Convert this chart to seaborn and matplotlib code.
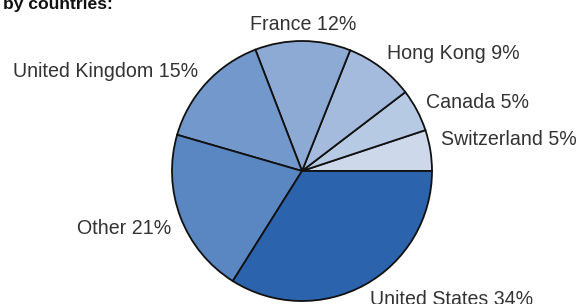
import numpy as np
import seaborn as sns
import matplotlib.pyplot as plt

# slice data, counter-clockwise from 3 o'clock
countries = ["Switzerland", "Canada", "Hong Kong", "France", "United Kingdom", "Other", "United States"]
shares = [5.1, 5.3, 8.6, 11.9, 14.7, 20.6, 34.0]
colors = ["#cdd9eb", "#b7cae4", "#a4bbdd", "#8daad4", "#7398cb", "#5a86c2", "#2b63ad"]
title = "by countries:"

sns.set_theme(style="white")
plt.rcParams['font.family'] = ['Liberation Sans', 'DejaVu Sans']

W, H = 578, 304
fig = plt.figure(figsize=(W / 100, H / 100), dpi=100)
ax = fig.add_axes([0, 0, 1, 1])

cx, cy, r = 302, H - 171, 130
wedges, _ = ax.pie(shares, colors=colors, startangle=0, counterclock=True,
                   center=(cx, cy), radius=r,
                   wedgeprops=dict(edgecolor="#111111", linewidth=1.3))

# vertical label nudges (px) to mimic the original layout
nudge = {"Switzerland": 8, "Other": -5}

for w, name, v in zip(wedges, countries, shares):
    mid = np.deg2rad((w.theta1 + w.theta2) / 2)
    x = cx + 1.08 * r * np.cos(mid)
    y = cy + 1.13 * r * np.sin(mid) + nudge.get(name, 0)
    c = np.cos(mid)
    ha = "center" if abs(c) < 0.1 else ("left" if c > 0 else "right")
    ax.text(x, y, f"{name} {round(v)}%", ha=ha, va="center",
            fontsize=14.1, color="#333333")

ax.text(113, H - 9.5, title, ha="right", va="baseline",
        fontsize=12.6, fontweight="bold", color="#111111")

ax.set_xlim(0, W)
ax.set_ylim(0, H)
ax.set_aspect("equal")
ax.axis("off")

fig.savefig("out.png", dpi=100)
